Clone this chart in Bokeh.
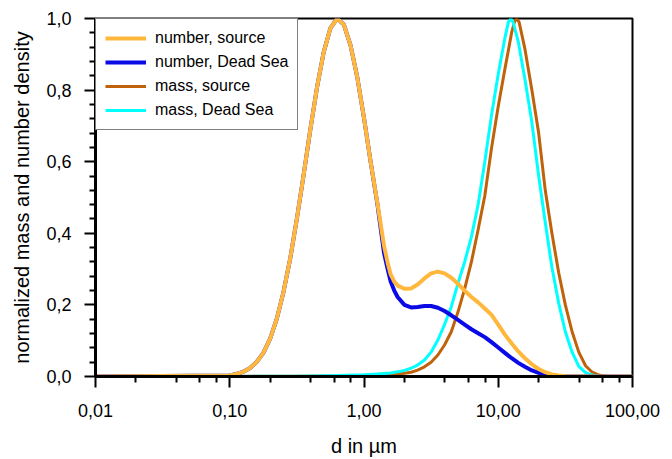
from bokeh.plotting import figure
from bokeh.models import FixedTicker, Legend, LegendItem
from bokeh.embed import file_html
from bokeh.resources import INLINE

# ---- data ----
d_number = [0.01, 0.100, 0.112, 0.126, 0.141, 0.158, 0.178, 0.200, 0.224, 0.251, 0.282,
            0.316, 0.355, 0.398, 0.447, 0.501, 0.562, 0.631, 0.708, 0.794, 0.891,
            1.00, 1.12, 1.26, 1.41, 1.50, 1.58, 1.68, 1.78, 2.00, 2.24, 2.51, 2.82, 3.16, 3.55,
            3.98, 4.47, 5.01, 5.62, 6.31, 7.08, 7.94, 8.91, 10.0, 11.2, 12.6, 14.1,
            15.8, 17.8, 20.0, 22.4, 25.1, 28.2, 31.6, 39.8, 100.0]
number_source = [0.000, 0.003, 0.007, 0.013, 0.023, 0.040, 0.066, 0.106, 0.161, 0.235, 0.329,
                 0.440, 0.563, 0.689, 0.808, 0.906, 0.973, 1.000, 0.983, 0.925, 0.836,
                 0.722, 0.600, 0.483, 0.365, 0.318, 0.285, 0.265, 0.254, 0.245, 0.246, 0.257, 0.274, 0.288, 0.293,
                 0.288, 0.276, 0.259, 0.240, 0.222, 0.207, 0.190, 0.172, 0.145, 0.117, 0.092, 0.070,
                 0.051, 0.034, 0.021, 0.012, 0.006, 0.003, 0.001, 0.000, 0.000]
number_deadsea = [0.000, 0.003, 0.007, 0.013, 0.023, 0.040, 0.066, 0.106, 0.161, 0.235, 0.329,
                  0.440, 0.563, 0.689, 0.808, 0.906, 0.973, 1.000, 0.983, 0.925, 0.836,
                  0.722, 0.600, 0.480, 0.345, 0.300, 0.265, 0.240, 0.222, 0.200, 0.193, 0.194, 0.197, 0.197, 0.192,
                  0.183, 0.171, 0.158, 0.145, 0.132, 0.121, 0.110, 0.096, 0.081, 0.066, 0.051, 0.038,
                  0.027, 0.017, 0.010, 0.005, 0.002, 0.001, 0.000, 0.000, 0.000]

d_mass_source = [0.1, 0.316, 1.0, 1.26, 1.58, 1.78, 2.0, 2.24, 2.51, 2.82, 3.16, 3.55, 3.98,
                 4.47, 5.01, 5.62, 6.31, 7.08, 7.94, 8.91, 10.0, 11.2, 12.6, 13.2, 13.7, 14.3,
                 15.8, 17.8, 20.0, 22.4, 25.1, 28.2, 31.6, 35.5, 39.8, 44.7, 50.1, 56.2,
                 63.1, 70.8, 100.0]
mass_source = [0.000, 0.001, 0.002, 0.003, 0.005, 0.007, 0.009, 0.012, 0.018, 0.027, 0.040,
               0.060, 0.088, 0.125, 0.180, 0.245, 0.320, 0.410, 0.505, 0.638, 0.755, 0.858,
               0.962, 0.990, 1.000, 0.990, 0.915, 0.800, 0.680, 0.520, 0.400, 0.290, 0.200,
               0.125, 0.068, 0.030, 0.012, 0.004, 0.001, 0.000, 0.000]

d_mass_deadsea = [0.1, 0.316, 0.631, 1.0, 1.26, 1.58, 1.78, 2.0, 2.24, 2.51, 2.82, 3.16, 3.55,
                  3.98, 4.47, 5.01, 5.62, 6.31, 7.08, 7.94, 8.91, 10.0, 11.2, 11.9, 12.4, 12.9,
                  14.1, 15.8, 17.8, 20.0, 22.4, 25.1, 28.2, 31.6, 35.5, 39.8, 44.7, 50.1,
                  56.2, 63.1, 100.0]
mass_deadsea = [0.000, 0.001, 0.003, 0.005, 0.007, 0.010, 0.013, 0.017, 0.023, 0.032, 0.046,
                0.068, 0.102, 0.145, 0.195, 0.260, 0.320, 0.390, 0.480, 0.600, 0.730, 0.845,
                0.945, 0.990, 1.000, 0.990, 0.935, 0.830, 0.710, 0.560, 0.430, 0.305, 0.205,
                0.125, 0.068, 0.028, 0.011, 0.004, 0.001, 0.000, 0.000]

x_ticks = [0.01, 0.1, 1.0, 10.0, 100.0]
x_tick_labels = ["0,01", "0,10", "1,00", "10,00", "100,00"]
x_minor = [0.02, 0.04, 0.06, 0.08, 0.2, 0.4, 0.6, 0.8, 2.0, 4.0, 6.0, 8.0, 20.0, 40.0, 60.0, 80.0]
y_ticks = [0.0, 0.2, 0.4, 0.6, 0.8, 1.0]
y_tick_labels = ["0,0", "0,2", "0,4", "0,6", "0,8", "1,0"]
y_minor = [0.04, 0.08, 0.12, 0.16, 0.24, 0.28, 0.32, 0.36, 0.44, 0.48, 0.52, 0.56,
           0.64, 0.68, 0.72, 0.76, 0.84, 0.88, 0.92, 0.96]
x_title = "d in µm"
y_title = "normalized mass and number density"

FONT = "Liberation Sans"

p = figure(width=672, height=459, x_axis_type="log", x_range=(0.01, 100), y_range=(0, 1),
           output_backend="svg", toolbar_location=None,
           min_border_left=95, min_border_right=40, min_border_top=18, min_border_bottom=83)

r_ms = p.line(d_mass_source, mass_source, line_color="#C0620A", line_width=3, line_join="round")
r_md = p.line(d_mass_deadsea, mass_deadsea, line_color="#00FFFF", line_width=3, line_join="round")
r_nd = p.line(d_number, number_deadsea, line_color="#0A0AE6", line_width=4, line_join="round")
r_ns = p.line(d_number, number_source, line_color="#FFB83C", line_width=4, line_join="round")

legend = Legend(items=[
    LegendItem(label="number, source", renderers=[r_ns]),
    LegendItem(label="number, Dead Sea", renderers=[r_nd]),
    LegendItem(label="mass, source", renderers=[r_ms]),
    LegendItem(label="mass, Dead Sea", renderers=[r_md]),
], location="top_left")
legend.margin = 0
legend.padding = 9
legend.spacing = 4
legend.glyph_width = 41
legend.glyph_height = 20
legend.label_height = 20
legend.label_standoff = 9
legend.label_text_font = FONT
legend.label_text_font_size = "16px"
legend.label_text_color = "black"
legend.border_line_color = "black"
legend.border_line_width = 1
legend.background_fill_color = "white"
legend.background_fill_alpha = 1.0
p.add_layout(legend)

p.xgrid.visible = False
p.ygrid.visible = False
p.outline_line_color = "black"
p.outline_line_width = 2
p.outline_line_alpha = 1.0

p.xaxis.ticker = FixedTicker(ticks=x_ticks, minor_ticks=x_minor)
p.xaxis.major_label_overrides = dict(zip(x_ticks, x_tick_labels))
p.yaxis.ticker = FixedTicker(ticks=y_ticks, minor_ticks=y_minor)
p.yaxis.major_label_overrides = dict(zip(y_ticks, y_tick_labels))

p.xaxis.axis_label = x_title
p.yaxis.axis_label = y_title

for ax in (p.xaxis[0], p.yaxis[0]):
    ax.axis_line_color = "black"
    ax.axis_line_width = 3
    ax.major_tick_in = 0
    ax.major_tick_out = 11
    ax.minor_tick_in = 0
    ax.minor_tick_out = 6
    ax.major_tick_line_color = "black"
    ax.minor_tick_line_color = "black"
    ax.major_tick_line_width = 2
    ax.minor_tick_line_width = 2
    ax.major_label_text_font = FONT
    ax.major_label_text_font_size = "18px"
    ax.major_label_text_color = "black"
    ax.axis_label_text_font = FONT
    ax.axis_label_text_font_size = "20px"
    ax.axis_label_text_font_style = "normal"
    ax.axis_label_text_color = "black"

p.xaxis.major_label_standoff = 16
p.xaxis.axis_label_standoff = 15
p.yaxis.major_label_standoff = 13
p.yaxis.axis_label_standoff = 10

open("out.html", "w").write(file_html(p, INLINE))
